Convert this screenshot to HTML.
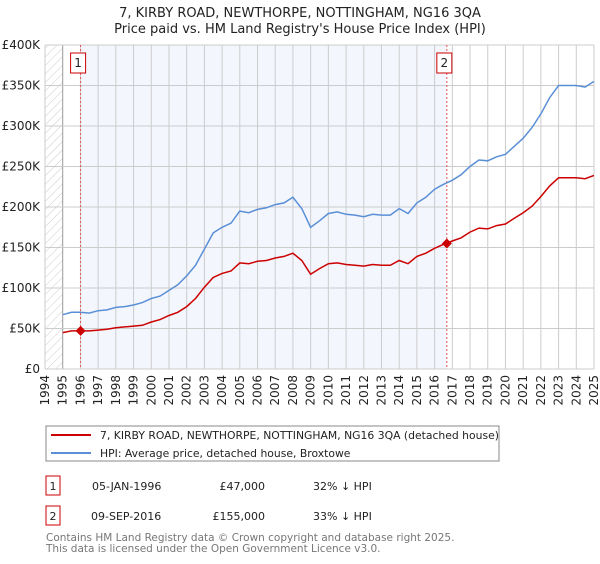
<!DOCTYPE html>
<html><head><meta charset="utf-8"><style>
body{margin:0;background:#fff;font-family:"DejaVu Sans","Liberation Sans",sans-serif;}
svg text{font-family:"DejaVu Sans","Liberation Sans",sans-serif;}
</style></head><body>
<svg id="chart" width="600" height="560" xmlns="http://www.w3.org/2000/svg">
<defs><pattern id="hatch" width="6" height="6" patternUnits="userSpaceOnUse" patternTransform="rotate(45)"><line x1="0" y1="0" x2="0" y2="6" stroke="#ccc" stroke-width="1"/></pattern></defs>
<text x="300" y="17" text-anchor="middle" font-size="13" fill="#222">7, KIRBY ROAD, NEWTHORPE, NOTTINGHAM, NG16 3QA</text>
<text x="300" y="33" text-anchor="middle" font-size="13" fill="#222">Price paid vs. HM Land Registry's House Price Index (HPI)</text>
<g id="plot"></g>
<g>
<rect x="46" y="426" width="453" height="35" fill="#fff" stroke="#888"/>
<line x1="51" y1="435" x2="91" y2="435" stroke="#cc0000" stroke-width="2"/>
<text x="100" y="439" font-size="10.8" fill="#222">7, KIRBY ROAD, NEWTHORPE, NOTTINGHAM, NG16 3QA (detached house)</text>
<line x1="51" y1="453" x2="91" y2="453" stroke="#5a8fd6" stroke-width="2"/>
<text x="100" y="457" font-size="10.8" fill="#222">HPI: Average price, detached house, Broxtowe</text>
</g>
<g font-size="11" fill="#222">
<rect x="46" y="476" width="14" height="19" fill="#fff" stroke="#cc0000"/><text x="53" y="490" text-anchor="middle">1</text>
<text x="92" y="490">05-JAN-1996</text><text x="265" y="490" text-anchor="end">£47,000</text><text x="313" y="490">32% ↓ HPI</text>
<rect x="46" y="506" width="14" height="19" fill="#fff" stroke="#cc0000"/><text x="53" y="520" text-anchor="middle">2</text>
<text x="91" y="520">09-SEP-2016</text><text x="265" y="520" text-anchor="end">£155,000</text><text x="313" y="520">33% ↓ HPI</text>
</g>
<text x="46" y="541" font-size="10.5" fill="#777">Contains HM Land Registry data © Crown copyright and database right 2025.</text>
<text x="46" y="552" font-size="10.5" fill="#777">This data is licensed under the Open Government Licence v3.0.</text>
</svg>
<script>
const years=[1995,1995.5,1996,1996.5,1997,1997.5,1998,1998.5,1999,1999.5,2000,2000.5,2001,2001.5,2002,2002.5,2003,2003.5,2004,2004.5,2005,2005.5,2006,2006.5,2007,2007.5,2008,2008.5,2009,2009.5,2010,2010.5,2011,2011.5,2012,2012.5,2013,2013.5,2014,2014.5,2015,2015.5,2016,2016.5,2017,2017.5,2018,2018.5,2019,2019.5,2020,2020.5,2021,2021.5,2022,2022.5,2023,2023.5,2024,2024.5,2025];
const hpi=[67,70,70,69,72,73,76,77,79,82,87,90,97,104,115,128,148,168,175,180,195,193,197,199,203,205,212,198,175,183,192,194,191,190,188,191,190,190,198,192,205,212,222,228,233,240,250,258,257,262,265,275,285,298,315,335,350,350,350,348,355];
const price=[45,47,47,47,48,49,51,52,53,54,58,61,66,70,77,87,101,113,118,121,131,130,133,134,137,139,143,134,117,124,130,131,129,128,127,129,128,128,134,130,139,143,149,154,158,162,169,174,173,177,179,186,193,201,213,226,236,236,236,235,239];
const yTicks=[0,50,100,150,200,250,300,350,400];
const yTickLabels=["£0","£50K","£100K","£150K","£200K","£250K","£300K","£350K","£400K"];
const xTicks=[1994,1995,1996,1997,1998,1999,2000,2001,2002,2003,2004,2005,2006,2007,2008,2009,2010,2011,2012,2013,2014,2015,2016,2017,2018,2019,2020,2021,2022,2023,2024,2025];
const saleYears=[1996.01,2016.69];
const saleValues=[47,155];
const saleLabels=["1","2"];
const NS="http://www.w3.org/2000/svg";
const X=t=>45+(t-1994)*(594-45)/31;
const Y=v=>369-v*324/400;
const g=document.getElementById('plot');
function mk(tag,attrs,parent){const e=document.createElementNS(NS,tag);for(const k in attrs)e.setAttribute(k,attrs[k]);(parent||g).appendChild(e);return e;}
mk('rect',{x:X(1994),y:Y(400),width:X(1995)-X(1994),height:Y(0)-Y(400),fill:'url(#hatch)'});
const sh=mk('rect',{x:X(saleYears[0]),y:Y(400),width:X(saleYears[1])-X(saleYears[0]),height:Y(0)-Y(400),fill:'#f3f6fd'});


for(let i=0;i<xTicks.length;i++){
 const t=xTicks[i];
 mk('line',{x1:X(t),x2:X(t),y1:Y(0),y2:Y(400),stroke:t===1995?'#999':'#ccc','stroke-width':1});
 const lb=mk('text',{x:0,y:0,'font-size':12,fill:'#222','text-anchor':'end',transform:`translate(${X(t)+4},${Y(0)+6}) rotate(-90)`});
 lb.textContent=t;
 
 
}
for(let i=0;i<yTicks.length;i++){
 mk('line',{x1:X(1994),x2:X(2025),y1:Y(yTicks[i]),y2:Y(yTicks[i]),stroke:'#ccc','stroke-width':1});
 const lb=mk('text',{x:40,y:Y(yTicks[i])+4,'font-size':12,fill:'#222','text-anchor':'end'});
 lb.textContent=yTickLabels[i];
 
 
}
for(let i=0;i<saleYears.length;i++){
 mk('line',{x1:X(saleYears[i]),x2:X(saleYears[i]),y1:Y(400),y2:Y(0),stroke:'#e05555','stroke-width':1,'stroke-dasharray':'2,2'});
}
const pts=a=>years.map((t,i)=>X(t).toFixed(1)+','+Y(a[i]).toFixed(1)).join(' ');
const hl=mk('polyline',{points:pts(hpi),fill:'none',stroke:'#5a8fd6','stroke-width':1.5});


const pl=mk('polyline',{points:pts(price),fill:'none',stroke:'#cc0000','stroke-width':1.5});


for(let i=0;i<saleYears.length;i++){
 const x=X(saleYears[i]),y=Y(saleValues[i]);
 const m=mk('polygon',{points:`${x},${y-5} ${x+5},${y} ${x},${y+5} ${x-5},${y}`,fill:'#cc0000'});
 
 
 const b=mk('rect',{x:x-10,y:53,width:15,height:20,fill:'#fff',stroke:'#cc0000'});
 
 
 const tx=mk('text',{x:x-2.5,y:67,'font-size':12,fill:'#222','text-anchor':'middle'});
 tx.textContent=saleLabels[i];
 
 
}
</script>
</body></html>
